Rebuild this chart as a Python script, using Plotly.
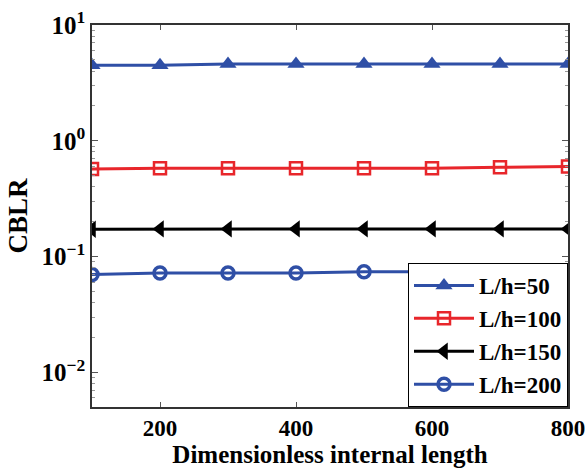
import plotly.graph_objects as go

x_vals = [100, 200, 300, 400, 500, 600, 700, 800]
lh50 = [4.5, 4.5, 4.6, 4.6, 4.6, 4.6, 4.6, 4.6]
lh100 = [0.57, 0.58, 0.58, 0.58, 0.58, 0.58, 0.59, 0.60]
lh150 = [0.172, 0.173, 0.173, 0.173, 0.173, 0.173, 0.173, 0.173]
lh200 = [0.070, 0.072, 0.072, 0.072, 0.074, 0.074, 0.074, 0.074]
names = ["L/h=50", "L/h=100", "L/h=150", "L/h=200"]
x_ticks = [200, 400, 600, 800]
y_ticks = [0.01, 0.1, 1, 10]
y_ticktext = ["10<sup>−2</sup>", "10<sup>−1</sup>", "10<sup>0</sup>", "10<sup>1</sup>"]

blue = "#2F4FA6"
red = "#E8262B"
black = "#000000"

fig = go.Figure()
fig.add_trace(go.Scatter(x=x_vals, y=lh50, name=names[0], mode="lines+markers",
                         line=dict(color=blue, width=3),
                         marker=dict(symbol="triangle-up", size=15, color=blue)))
fig.add_trace(go.Scatter(x=x_vals, y=lh100, name=names[1], mode="lines+markers",
                         line=dict(color=red, width=3),
                         marker=dict(symbol="square-open", size=12, color=red, line=dict(width=2.5))))
fig.add_trace(go.Scatter(x=x_vals, y=lh150, name=names[2], mode="lines+markers",
                         line=dict(color=black, width=3),
                         marker=dict(symbol="triangle-left", size=15, color=black)))
fig.add_trace(go.Scatter(x=x_vals, y=lh200, name=names[3], mode="lines+markers",
                         line=dict(color=blue, width=3),
                         marker=dict(symbol="circle-open", size=12, color=blue, line=dict(width=3.5))))

font_fam = "Liberation Serif"
fig.update_layout(
    width=587, height=472,
    margin=dict(l=92, r=19, t=25, b=65),
    paper_bgcolor="white", plot_bgcolor="white",
    font=dict(family=font_fam, color="black", size=16, weight="bold"),
    showlegend=True,
    legend=dict(x=1, y=0, xanchor="right", yanchor="bottom",
                bgcolor="white", bordercolor="black", borderwidth=1,
                font=dict(size=23, family=font_fam, color="black", weight="bold"),
                itemwidth=60, tracegroupgap=0),
)
fig.update_xaxes(
    range=[100, 800], tickvals=x_ticks,
    ticks="inside", ticklen=5, tickwidth=1, tickcolor="#555",
    showline=True, linecolor="#333", linewidth=1.5, mirror="ticks",
    showgrid=False, zeroline=False, automargin=False,
    tickfont=dict(size=23, family=font_fam, color="black", weight="bold"),
    title=dict(text="Dimensionless internal length",
               font=dict(size=25, family=font_fam, weight="bold"), standoff=0),
)
fig.update_yaxes(
    type="log", range=[-2.3, 1],
    tickvals=y_ticks, ticktext=y_ticktext,
    ticks="inside", ticklen=6, tickwidth=1, tickcolor="#555",
    minor=dict(ticks="inside", ticklen=3, tickwidth=0.6, tickcolor="#999", dtick="D1", showgrid=False),
    showline=True, linecolor="#333", linewidth=1.5, mirror="ticks",
    showgrid=False, zeroline=False, automargin=False,
    tickfont=dict(size=25, family=font_fam, color="black", weight="bold"),
    title=dict(text="CBLR", font=dict(size=27, family=font_fam, weight="bold"), standoff=6),
)

fig.write_html("out.html")
